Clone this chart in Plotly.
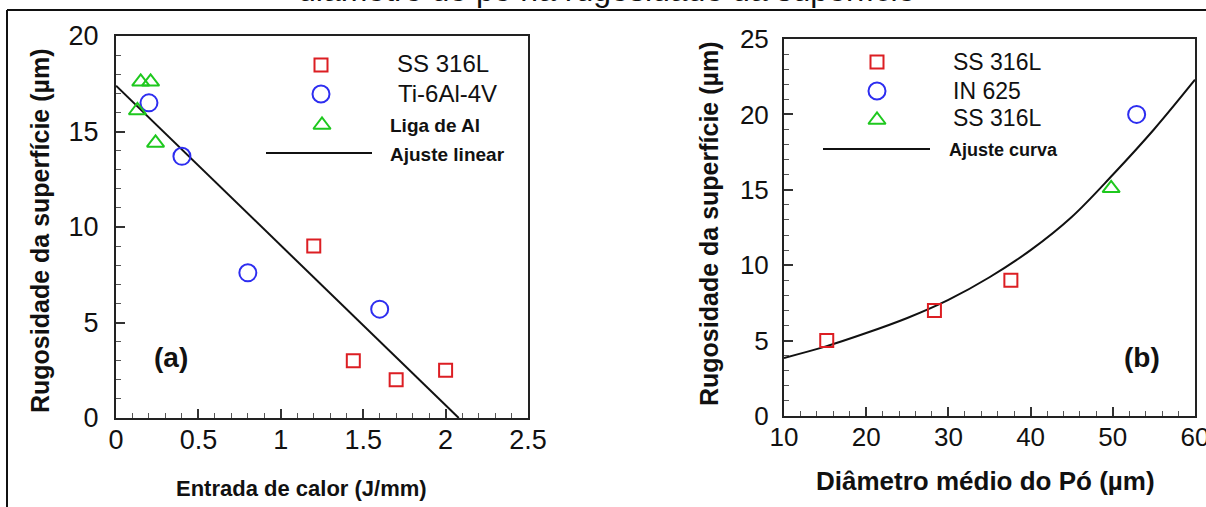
import plotly.graph_objects as go

# ---------------- data ----------------
# (a) surface roughness vs heat input
ss316_heat = [1.20, 1.44, 1.70, 2.00]
ss316_rough_a = [9.0, 3.0, 2.0, 2.5]
ti64_heat = [0.20, 0.40, 0.80, 1.60]
ti64_rough = [16.5, 13.7, 7.6, 5.7]
al_heat = [0.15, 0.21, 0.13, 0.24]
al_rough = [17.6, 17.6, 16.1, 14.4]
lin_fit_heat = [0.0, 2.08]
lin_fit_rough = [17.4, 0.0]

# (b) surface roughness vs mean powder diameter
ss316_diam = [15.2, 28.3, 37.6]
ss316_rough_b = [5.0, 7.0, 9.0]
in625_diam = [52.9]
in625_rough = [20.0]
ss316b_diam = [49.8]
ss316b_rough = [15.1]
curve_diam = [10, 15, 20, 25, 30, 35, 40, 45, 50, 55, 60]
curve_rough = [3.85, 4.6, 5.5, 6.5, 7.7, 9.2, 11.0, 13.2, 16.0, 19.0, 22.3]

x_ticks_a = [0, 0.5, 1, 1.5, 2, 2.5]
x_tick_text_a = ["0", "0.5", "1", "1.5", "2", "2.5"]
y_ticks_a = [0, 5, 10, 15, 20]
x_ticks_b = [10, 20, 30, 40, 50, 60]
y_ticks_b = [0, 5, 10, 15, 20, 25]

legend_a = ["SS 316L", "Ti-6Al-4V", "<b>Liga de Al</b>", "<b>Ajuste linear</b>"]
legend_b = ["SS 316L", "IN 625", "SS 316L", "<b>Ajuste curva</b>"]

# ---------------- style ----------------
W, H = 1206, 507
FONT = "Liberation Sans, Arial, sans-serif"
RED = "rgb(220,30,35)"
BLUE = "rgb(45,45,240)"
GREEN = "rgb(30,200,30)"
INK = "#111111"


def fx(px):
    return px / W


def fy(py):
    return 1 - py / H


fig = go.Figure()

sq = dict(symbol="square-open", size=13, color=RED, line=dict(width=2, color=RED))
ci = dict(symbol="circle-open", size=17, color=BLUE, line=dict(width=2, color=BLUE))
tr = dict(symbol="triangle-up-open", size=15, color=GREEN, line=dict(width=2, color=GREEN))

# panel (a)
fig.add_trace(go.Scatter(x=lin_fit_heat, y=lin_fit_rough, mode="lines",
                         line=dict(color=INK, width=2), xaxis="x", yaxis="y"))
fig.add_trace(go.Scatter(x=ss316_heat, y=ss316_rough_a, mode="markers", marker=sq,
                         xaxis="x", yaxis="y"))
fig.add_trace(go.Scatter(x=ti64_heat, y=ti64_rough, mode="markers", marker=ci,
                         xaxis="x", yaxis="y"))
fig.add_trace(go.Scatter(x=al_heat, y=al_rough, mode="markers", marker=tr,
                         xaxis="x", yaxis="y"))

# panel (b)
fig.add_trace(go.Scatter(x=curve_diam, y=curve_rough, mode="lines", line_shape="spline",
                         line=dict(color=INK, width=2), xaxis="x2", yaxis="y2"))
fig.add_trace(go.Scatter(x=ss316_diam, y=ss316_rough_b, mode="markers", marker=sq,
                         xaxis="x2", yaxis="y2"))
fig.add_trace(go.Scatter(x=in625_diam, y=in625_rough, mode="markers", marker=ci,
                         xaxis="x2", yaxis="y2"))
fig.add_trace(go.Scatter(x=ss316b_diam, y=ss316b_rough, mode="markers", marker=tr,
                         xaxis="x2", yaxis="y2"))

# legend keys, drawn on a page-pixel overlay axis
def key_marker(px, py, style):
    fig.add_trace(go.Scatter(x=[px], y=[py], mode="markers", marker=style,
                             xaxis="x3", yaxis="y3", hoverinfo="skip"))


def key_line(px0, px1, py):
    fig.add_trace(go.Scatter(x=[px0, px1], y=[py, py], mode="lines",
                             line=dict(color=INK, width=2),
                             xaxis="x3", yaxis="y3", hoverinfo="skip"))


key_marker(321, 65, sq)
key_marker(321, 94, ci)
key_marker(322, 125, tr)
key_line(266, 372, 153)
key_marker(877, 62, sq)
key_marker(877, 91, ci)
key_marker(877, 120, tr)
key_line(823, 930, 149)

annotations = []


def label(text, px, py, size, xanchor="center", angle=0):
    annotations.append(dict(text=text, x=fx(px), y=fy(py), xref="paper", yref="paper",
                            xanchor=xanchor, yanchor="middle", textangle=angle,
                            showarrow=False, font=dict(family=FONT, size=size, color=INK)))


for txt, px, py, size in [(legend_a[0], 395, 64, 24), (legend_a[1], 396, 93, 24),
                          (legend_a[2], 388, 125, 19), (legend_a[3], 388, 154, 19),
                          (legend_b[0], 951, 62, 23), (legend_b[1], 951, 91, 23),
                          (legend_b[2], 951, 118, 23), (legend_b[3], 947, 150, 18)]:
    label(txt, px, py, size, xanchor="left")

# panel tags
label("<b>(a)</b>", 171, 357, 28)
label("<b>(b)</b>", 1142, 357, 28)

# axis titles
label("<b>Rugosidade da superfície (µm)</b>", 40, 231, 25, angle=-90)
label("<b>Rugosidade da superfície (µm)</b>", 709, 224, 25, angle=-90)
label("<b>Entrada de calor (J/mm)</b>", 301, 488, 22)
label("<b>Diâmetro médio do Pó (µm)</b>", 985, 481, 26)

# caption line running off the top of the page
label("diâmetro do pó na rugosidade da superfície", 606, -10, 32)

axis_common = dict(showline=True, linecolor="#222", linewidth=2, mirror=True,
                   ticks="inside", ticklen=9, tickwidth=1.5, tickcolor="#333",
                   showgrid=False, zeroline=False, ticklabeloverflow="allow",
                   tickfont=dict(family=FONT, size=27, color=INK),
                   minor=dict(ticks="inside", ticklen=5, tickwidth=1.2, tickcolor="#555",
                              showgrid=False))

layout_axes = dict(
    xaxis=dict(axis_common, domain=[fx(116), fx(528)], range=[0, 2.5], anchor="y",
               tickvals=x_ticks_a, ticktext=x_tick_text_a, minor_dtick=0.1,
               ticklabelstandoff=-3),
    yaxis=dict(axis_common, domain=[fy(418), fy(36)], range=[0, 20], anchor="x",
               tickvals=y_ticks_a, minor_dtick=1, ticklabelstandoff=10),
    xaxis2=dict(axis_common, domain=[fx(784), fx(1195)], range=[10, 60], anchor="y2",
                tickvals=x_ticks_b, minor_dtick=2, ticklabelstandoff=-3,
                tickfont=dict(family=FONT, size=26, color=INK)),
    yaxis2=dict(axis_common, domain=[fy(416), fy(39)], range=[0, 25], anchor="x2",
                tickvals=y_ticks_b, minor_dtick=1, ticklabelstandoff=8,
                tickfont=dict(family=FONT, size=26, color=INK)),
    xaxis3=dict(domain=[0, 1], range=[0, W], visible=False, anchor="y3", fixedrange=True),
    yaxis3=dict(domain=[0, 1], range=[H, 0], visible=False, anchor="x3", fixedrange=True),
)

shapes = [
    dict(type="line", xref="paper", yref="paper", x0=fx(7), x1=1, y0=fy(10), y1=fy(10),
         line=dict(color=INK, width=2)),
    dict(type="line", xref="paper", yref="paper", x0=fx(7), x1=fx(7), y0=0, y1=fy(10),
         line=dict(color=INK, width=2)),
]

fig.update_layout(
    width=W, height=H, margin=dict(l=0, r=0, t=0, b=0, autoexpand=False),
    paper_bgcolor="white", plot_bgcolor="rgba(0,0,0,0)",
    showlegend=False, annotations=annotations, shapes=shapes,
    **layout_axes,
)

fig.write_html("out.html")
